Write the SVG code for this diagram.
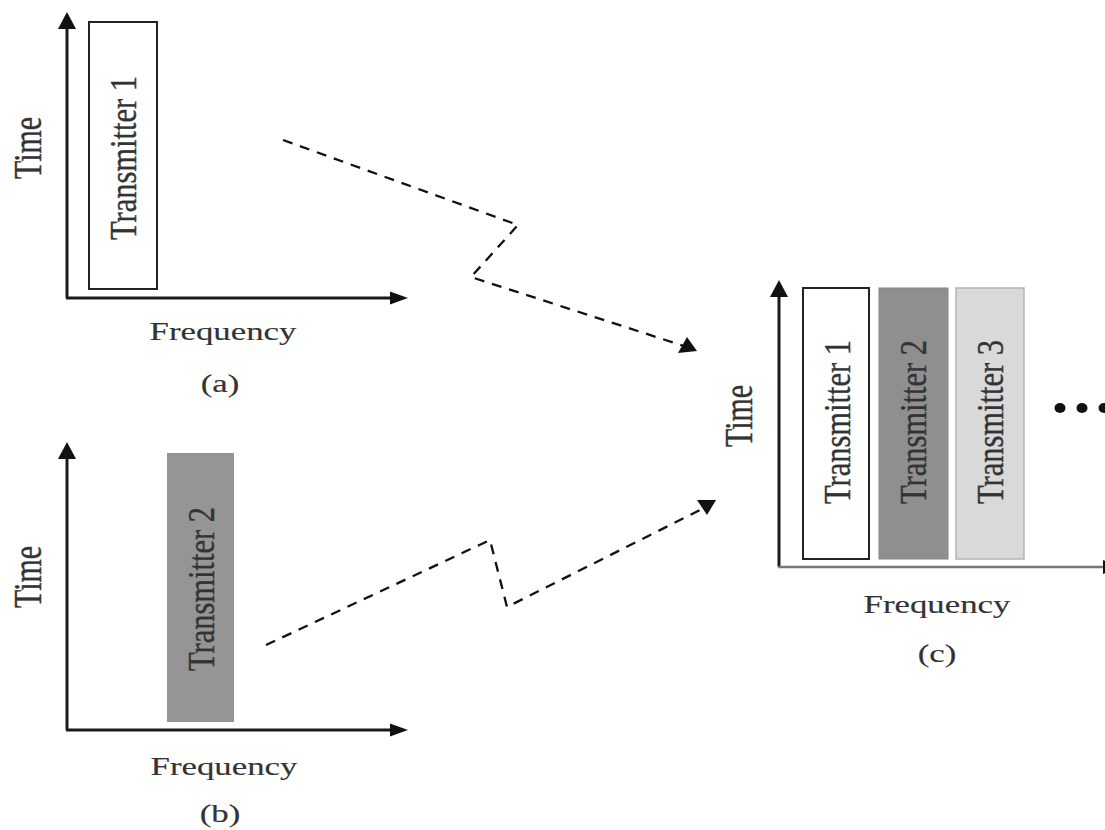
<svg xmlns="http://www.w3.org/2000/svg" width="1105" height="830" viewBox="0 0 1105 830">
  <style>
    .axis { stroke: #1a1a1a; stroke-width: 3; fill: none; }
    .head { fill: #111; }
    .lbl { font-family: "Liberation Serif", "Times New Roman", serif; fill: #333; stroke: #333; stroke-width: 0.3; }
    .ax { font-size: 26px; text-anchor: middle; stroke-width: 0.15; }
    .vt { font-size: 30px; text-anchor: middle; }
    .tx { font-size: 30.5px; text-anchor: middle; }
    .link { stroke: #111; stroke-width: 2.3; fill: none; stroke-dasharray: 10 8; }
  </style>

  <!-- (a) Transmitter 1 alone -->
  <g id="panel-a">
    <line class="axis" x1="67" y1="298" x2="67" y2="26"/>
    <polygon class="head" points="67,12 58,29 76,29"/>
    <line class="axis" x1="66" y1="298" x2="392" y2="298"/>
    <polygon class="head" points="408,298 390,291.5 390,304.5"/>
    <rect x="89" y="22" width="68" height="267" fill="#fff" stroke="#222" stroke-width="2"/>
    <text class="lbl tx" transform="translate(136,158) rotate(-90) scale(1,1.25)">Transmitter 1</text>
    <text class="lbl vt" transform="translate(41,148) rotate(-90) scale(1,1.33)">Time</text>
    <text class="lbl ax" transform="translate(223,340) scale(1.34,1)">Frequency</text>
    <text class="lbl ax" transform="translate(220,392) scale(1.34,1)">(a)</text>
  </g>

  <!-- (b) Transmitter 2 alone -->
  <g id="panel-b">
    <line class="axis" x1="67" y1="730" x2="67" y2="456"/>
    <polygon class="head" points="67,442 58,459 76,459"/>
    <line class="axis" x1="66" y1="730" x2="392" y2="730"/>
    <polygon class="head" points="408,730 390,723.5 390,736.5"/>
    <rect x="167" y="453" width="67" height="269" fill="#959595"/>
    <text class="lbl tx" transform="translate(214,589) rotate(-90) scale(1,1.25)">Transmitter 2</text>
    <text class="lbl vt" transform="translate(41,577) rotate(-90) scale(1,1.33)">Time</text>
    <text class="lbl ax" transform="translate(224,775) scale(1.34,1)">Frequency</text>
    <text class="lbl ax" transform="translate(220,822) scale(1.34,1)">(b)</text>
  </g>

  <!-- (c) all transmitters side by side in frequency -->
  <g id="panel-c">
    <line class="axis" x1="779" y1="567" x2="779" y2="294"/>
    <polygon class="head" points="779,280 770,297 788,297"/>
    <line x1="778" y1="567" x2="1110" y2="567" stroke="#777" stroke-width="2.5"/>
    <polygon class="head" points="1103,560 1103,574 1120,567"/>
    <rect x="803" y="288" width="66" height="271" fill="#fff" stroke="#222" stroke-width="2"/>
    <rect x="879" y="288" width="69" height="271" fill="#8f8f8f" stroke="#868686" stroke-width="1"/>
    <rect x="956" y="288" width="68" height="271" fill="#d9d9d9" stroke="#b4b4b4" stroke-width="1.5"/>
    <text class="lbl tx" transform="translate(850,422) rotate(-90) scale(1,1.25)">Transmitter 1</text>
    <text class="lbl tx" transform="translate(926,422) rotate(-90) scale(1,1.25)">Transmitter 2</text>
    <text class="lbl tx" transform="translate(1003,422) rotate(-90) scale(1,1.25)">Transmitter 3</text>
    <text class="lbl vt" transform="translate(752,416) rotate(-90) scale(1,1.33)">Time</text>
    <text class="lbl ax" transform="translate(937,613) scale(1.34,1)">Frequency</text>
    <text class="lbl ax" transform="translate(937,662) scale(1.34,1)">(c)</text>
    <g id="more" fill="#111">
      <ellipse cx="1060" cy="408" rx="5.5" ry="5"/>
      <ellipse cx="1082" cy="408" rx="5.5" ry="5"/>
      <ellipse cx="1104" cy="408" rx="5.5" ry="5"/>
    </g>
  </g>

  <!-- dashed radio links into the combined spectrum -->
  <g id="connectors">
    <polyline class="link" points="283,140 518,225 471,277 684,346"/>
    <polygon class="head" points="678,353 697,351 687,337"/>
    <polyline class="link" points="266,645 490,540 507,607 700,510"/>
    <polygon class="head" points="697,500 716,500 707,515"/>
  </g>
</svg>
